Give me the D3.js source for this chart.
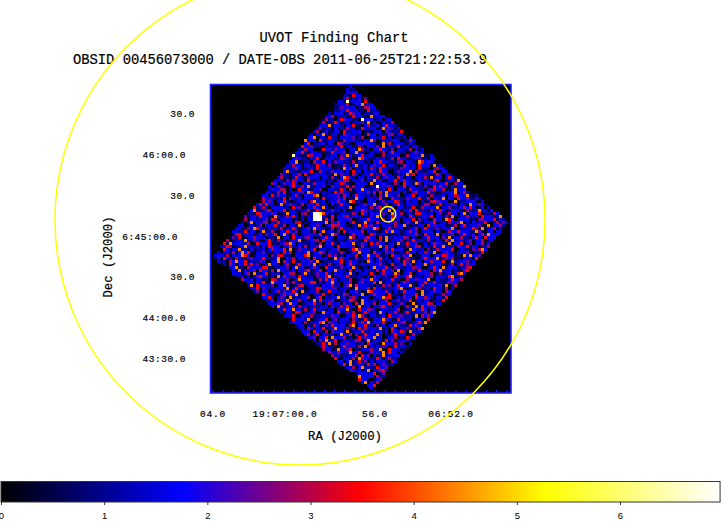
<!DOCTYPE html>
<html>
<head>
<meta charset="utf-8">
<script src="https://cdn.jsdelivr.net/npm/d3@7"></script>
<style>
html, body { margin: 0; padding: 0; background: #fff; }
svg { display: block; }
text { font-family: "Liberation Mono", monospace; fill: #000; stroke: #000; stroke-width: 0.2; }
</style>
</head>
<body>
<svg id="chart" width="722" height="521"></svg>
<script>
const titleLines = ["UVOT Finding Chart", "OBSID 00456073000 / DATE-OBS 2011-06-25T21:22:53.9"];
const raTitle = "RA (J2000)";
const decTitle = "Dec (J2000)";

// RA seconds past 19:06, Dec arcsec past 6:43:00
const raTicks = [64, 60, 56, 52];
const raLabels = ["04.0", "19:07:00.0", "56.0", "06:52.0"];
const decTicks = [210, 180, 150, 120, 90, 60, 30];
const decLabels = ["30.0", "46:00.0", "30.0", "6:45:00.0", "30.0", "44:00.0", "43:30.0"];

const barTicks = [0, 1, 2, 3, 4, 5, 6];
const barStops = [0, 1.76, 3.48, 5.27, 6.97];
const barColors = ["#000000", "#0000ff", "#ff0000", "#ffff00", "#ffffff"];

// exposure footprint corners, in image pixels
const footprintCols = [46.3, 99, 53.7, 0.7];
const footprintRows = [0, 45.5, 101.3, 57];

// bright source, image pixels
const sourceCols = [34, 35, 36, 34, 35, 36, 34, 35, 36, 37];
const sourceRows = [42, 42, 42, 43, 43, 43, 44, 44, 44, 42];
const sourceValues = [6.9, 6.9, 5.2, 6.9, 6.9, 6.9, 6.9, 6.9, 6.9, 3.9];

// counts per level, and the level of each pixel inside the footprint in raster order.
// a by-eye estimate of the image texture, it does not match pixel for pixel
const levelValues = [0.1, 0.6, 1.1, 1.6, 1.9, 2.4, 2.9, 3.4, 4.4, 6.5];
const pixelLevels = [
"33120334302217330361224053319233407122336014382330125443302166330021437334120723",
"22033412753302314403360223117334008233416220375331209344123033160227413302335180",
"30142260334813320337110362240373322513304122633017324402835313360241133072233401",
"21334054122730338213301643322017340322561330248033172203343512600332371402213038",
"33407123321063342203385013324430126337022341330752210334433201826033311420733522",
"10322347033116204335280332713304412263300173425332033186220437331503322604133372",
"04332112733350238330142216037332201453309321176334022330538412372331006223340163",
"33281033542203370143322653301873212433026073311345220334380122063370415332216033",
"12043733221560332087344103263303421733250112630382241353370332016423073340813322",
"36301242733331120835032240631733202154333072210463304832214337016322533414072303",
"23317440025333806221337014352203360712343322081533064023371426330132285703342216",
"40333612027321534303316204873203314226035331740320332618244037313320526433071122",
"31220437603335132824003371363220434315700233186402533730142263341203375210343308",
"03343216207331850324423371063330252104733628213340053322716334012293345302271430",
"22510736330412282433660301733214350033227406133832235140730432163322045733601283",
"34033126270233451873303220746331024335260718233304115633372201233480362034172533",
"11362043378022333516402733231406283325013470332162224033753381120634322170532403",
"33240712335360218330342471006332254337126033280431733521420635303372012433168223",
"02436331872210334035133762042330312675433018022344103362733028135321604337232041",
"37331002453382236014730343312660227133540420833531713620343322074501336328310223",
"22804333162570344033122701643328033512246373014033821256033470331223603742135330",
"40123375330263381440336172220534730243310621383304221763335401283320560337214231",
"13322640731433052183360241773323045126330381433702216350342733108423637303142250",
"32071435623330124382203753311640234370332518013362240733412860332235176034331204",
"03342817260333450123374330612824043370523116330874023341205633371422038133560327",
"24331670212343380536330471128230733144620353182033470231633580214233710362533301",
"31250433722603318401335302476633102283745230334163382021440735333112604723335108",
"03462330152873304231603374123528433016037232230543387013632240133604732251433810",
"22337508134603332271430382261033742503331604823315072433360423102738331246350333",
"40310263374332185203403316723330241533703821630234433702186312036344017523330212",
"12334620733180323501473240362833315270133643302218034073325630124734033218603357",
"33071822433650310237334052813362204731733460133282253004731622034380133560734212",
"20353410733226081334502372431620330748233135033602471833322601743370213568403221",
"32160337204433812530736330241822733501303643218033712503361433760124833230417533",
"03372241603358133207443350162033281734032051366033172383240533714302260731338220",
"41223036433718025331470332233600137853341220362733410833230512643337013220536833",
"13326048371033522043173603323813475033226301438233073315440121733033642801353203",
"33510227334160323874013333052672210433781334026351203327043833621307432538011433",
"02437633120828335140733062214533372213800436133250723340183633015224730372311460",
"36220147333802536011433073220648337132254003380631721433538012223470363312084135",
"21303417528230336433701822345133064033727250138332036104733428133160235037312433",
"33462107123735033480323311260372534033812063334771022335038241136300733215233840",
"12038334720532133654002373181433023670328132450733160833224033571236023384320714",
"40332261733508023341733206483330211573330460822371324033660148312533720433138202",
"33172036432850337023343601613302784123030357331208263441733220533680143372223103",
"05332410733368122034503332780136324033120762335014833230162737403326012533844022",
"37220163354338003221473360331427028433051632233770413382203360145233708133220364",
"21034733622135430281733325033840126713322043362403581733322021645037333810362233",
"34180263370532233418037330122763434503320182336073412233581033762240733160325034",
"02362533740812336013733224033520187343362031273341082235330640733210463538133202",
"33711403265033380236433172210533470823301263433720354081323360147032338241563033",
"20233867013253407336420331722503348033613028173345002337610832341236033522470331",
"43022173335604833012437220363341523071833260433721353018023376033408212350633124",
"13340522637330812403357321330264180733450227338331603724213305438201733653023322",
"36012283374043203317602335018433072253601374321830336204713332505823370143361223",
"22543013373862033124073345223180636301733428022337035133406312720433853017332203",
"31072433160233780543133227046382433710233560123748233031640252733431680337220513",
"03384221735302316403370238332514072633428130730335221683340732160533418023372243",
"24130633750822336147033240283360512733384021373330162245033708334612027353382301",
"33602174330528337014323660281433172503344022738160335331240732208433625103374220",
"02733416080323354017233263401833570213346328007433120533642283371025343817330362",
"41223360735031282433471033260853321740362234038137250313342063370822341736035323",
"13360482221733505433128033672014332370251833440622733101353804263374302218533670",
"32044173326083320513337241608233740323315820643372133054228033461735023337120342"
].join("");

const svg = d3.select("#chart");

const frame = { left: 211, right: 511, top: 85, bottom: 393 };
const colScale = d3.scaleLinear().domain([0, 100]).range([frame.left, frame.right]);
const rowScale = d3.scaleLinear().domain([0, 102]).range([frame.top, frame.bottom]);
const raScale = d3.scaleLinear().domain([64, 52]).range([213, 456]);
const decScale = d3.scaleLinear().domain([210, 30]).range([114, 359]);
const barScale = d3.scaleLinear().domain([0, 6]).range([1, 620]);
const color = d3.scaleLinear().domain(barStops).range(barColors).clamp(true);

// image background
svg.append("rect")
    .attr("x", colScale(0)).attr("y", rowScale(0))
    .attr("width", colScale(100) - colScale(0))
    .attr("height", rowScale(102) - rowScale(0))
    .attr("fill", "#000");

// pixels inside the footprint
const footprint = footprintCols.map((c, i) => [c, footprintRows[i]]);
const cells = [];
let n = 0;
for (let r = 0; r < 102; r++) {
    for (let c = 0; c < 100; c++) {
        if (d3.polygonContains(footprint, [c + 0.5, r + 0.5])) {
            cells.push({ c, r, v: levelValues[+pixelLevels[n % pixelLevels.length]] });
            n++;
        }
    }
}
sourceCols.forEach((c, i) => cells.push({ c, r: sourceRows[i], v: sourceValues[i] }));

svg.append("g").attr("shape-rendering", "crispEdges")
    .selectAll("rect")
    .data(cells)
    .join("rect")
    .attr("x", d => colScale(d.c))
    .attr("y", d => rowScale(d.r))
    .attr("width", d => colScale(d.c + 1) - colScale(d.c))
    .attr("height", d => rowScale(d.r + 1) - rowScale(d.r))
    .attr("fill", d => color(d.v));

// frame and small ticks
svg.append("rect")
    .attr("x", 210.5).attr("y", 84.5)
    .attr("width", 300.5).attr("height", 308.5)
    .attr("fill", "none").attr("stroke", "#2222ff").attr("stroke-width", 1.6);

svg.append("g").selectAll("line")
    .data(d3.range(64, 49, -0.5))
    .join("line")
    .attr("x1", d => raScale(d)).attr("x2", d => raScale(d))
    .attr("y1", 390).attr("y2", 393)
    .attr("stroke", "#2222ff");

// titles
svg.selectAll(".title")
    .data(titleLines)
    .join("text")
    .attr("class", "title")
    .attr("x", (d, i) => i == 0 ? 334 : 280)
    .attr("y", (d, i) => i == 0 ? 42 : 64)
    .attr("text-anchor", "middle")
    .attr("font-size", 13.8)
    .text(d => d);

// axis labels
svg.selectAll(".ra")
    .data(raTicks)
    .join("text")
    .attr("class", "ra")
    .attr("x", (d, i) => raScale(d) - [0, 9, 0, 5][i])
    .attr("y", 417)
    .attr("text-anchor", "middle")
    .attr("font-size", 9.5)
    .attr("letter-spacing", 0.8)
    .text((d, i) => raLabels[i]);

const decEnd = { 4: 195, 7: 186, 9: 178 };
svg.selectAll(".dec")
    .data(decTicks)
    .join("text")
    .attr("class", "dec")
    .attr("x", (d, i) => decEnd[decLabels[i].length])
    .attr("y", d => decScale(d) + 3)
    .attr("text-anchor", "end")
    .attr("font-size", 9.5)
    .attr("letter-spacing", 0.5)
    .text((d, i) => decLabels[i]);

svg.append("text")
    .attr("x", 345).attr("y", 440)
    .attr("text-anchor", "middle")
    .attr("font-size", 12.3)
    .text(raTitle);

svg.append("text")
    .attr("transform", "translate(112,257) rotate(-90)")
    .attr("text-anchor", "middle")
    .attr("font-size", 12.3)
    .text(decTitle);

// regions, on top of everything
svg.append("circle")
    .attr("cx", 300).attr("cy", 220).attr("r", 245)
    .attr("fill", "none").attr("stroke", "#ffff00").attr("stroke-width", 1.5);
svg.append("circle")
    .attr("cx", 388).attr("cy", 214.3).attr("r", 7.7)
    .attr("fill", "none").attr("stroke", "#ffff00").attr("stroke-width", 1.5);

// colorbar
const grad = svg.append("defs").append("linearGradient")
    .attr("id", "bar").attr("x1", 0).attr("x2", 1).attr("y1", 0).attr("y2", 0);
const barMax = barStops[barStops.length - 1];
grad.selectAll("stop")
    .data(barStops)
    .join("stop")
    .attr("offset", d => d / barMax)
    .attr("stop-color", d => color(d));

svg.append("rect")
    .attr("x", barScale(0)).attr("y", 481.5)
    .attr("width", barScale(barMax) - barScale(0)).attr("height", 20.5)
    .attr("fill", "url(#bar)")
    .attr("stroke", "#333").attr("stroke-width", 1);

const barAxis = d3.axisBottom(barScale)
    .tickValues(barTicks)
    .tickFormat(d3.format("d"))
    .tickSize(3)
    .tickPadding(7);
const barG = svg.append("g")
    .attr("transform", "translate(0,502)")
    .call(barAxis);
barG.select(".domain").remove();
barG.selectAll("line").attr("stroke", "#333");
barG.selectAll("text")
    .attr("font-size", 9.5)
    .style("font-family", "'Liberation Sans', sans-serif")
    .style("stroke-width", 0);
</script>
</body>
</html>
